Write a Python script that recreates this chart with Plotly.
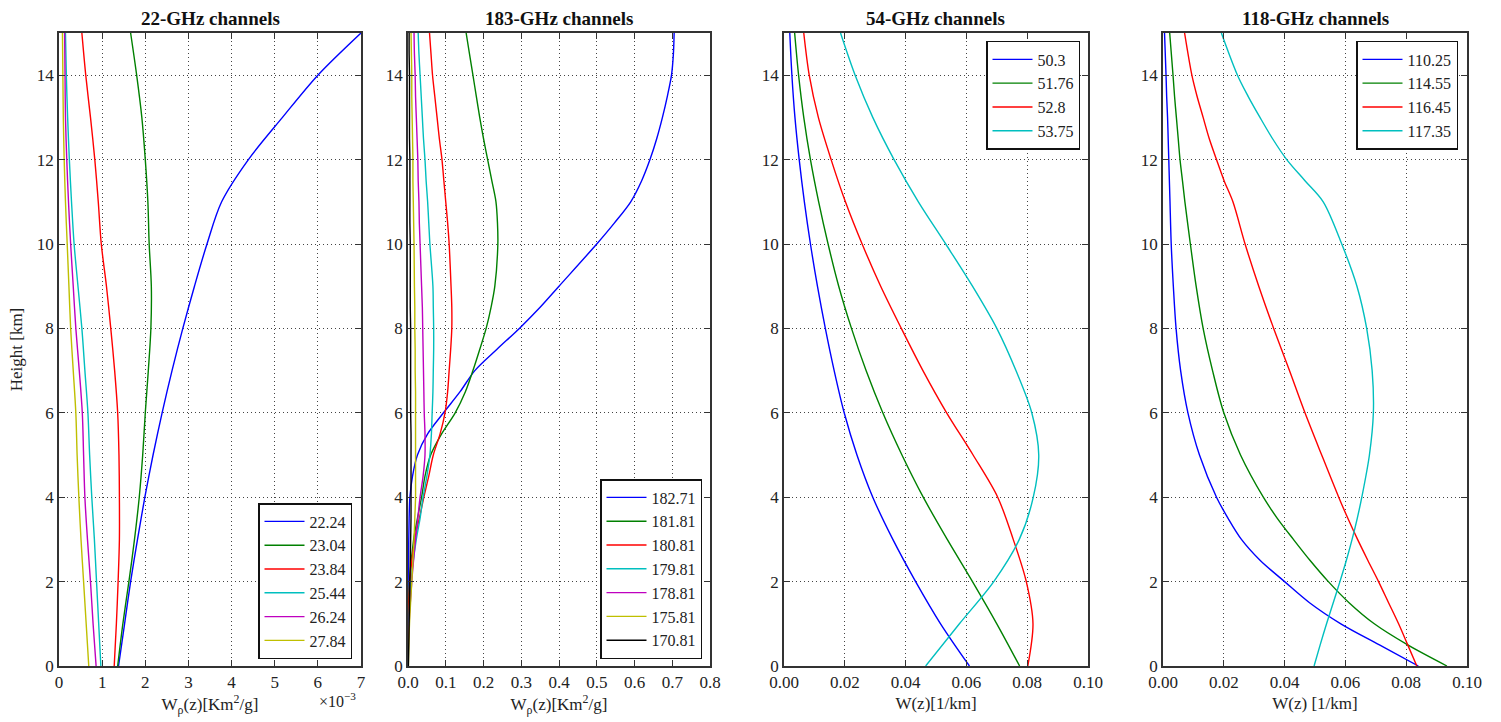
import plotly.graph_objects as go

# ---------------- data ----------------
# heights [km] and weighting functions per channel

# 22-GHz channels (values in units of 1e-3 Km^2/g)
h22 = [0, 1, 2, 3, 4, 5, 6, 7, 8, 9, 10, 11, 12, 13, 14, 15]
w22_2224 = [1.38, 1.52, 1.66, 1.82, 1.99, 2.18, 2.39, 2.62, 2.87, 3.14, 3.43, 3.77, 4.39, 5.18, 6.00, 7.00]
w22_2304 = [1.36, 1.48, 1.62, 1.75, 1.86, 1.94, 2.00, 2.07, 2.13, 2.14, 2.09, 2.06, 2.00, 1.92, 1.80, 1.66]
w22_2384 = [1.28, 1.33, 1.37, 1.40, 1.40, 1.39, 1.36, 1.29, 1.20, 1.10, 0.98, 0.91, 0.83, 0.73, 0.62, 0.53]
w22_2544 = [0.97, 0.92, 0.87, 0.82, 0.76, 0.71, 0.67, 0.60, 0.53, 0.44, 0.35, 0.29, 0.24, 0.20, 0.17, 0.15]
w22_2624 = [0.86, 0.79, 0.73, 0.66, 0.60, 0.57, 0.54, 0.47, 0.39, 0.33, 0.27, 0.22, 0.18, 0.15, 0.14, 0.13]
w22_2784 = [0.69, 0.63, 0.57, 0.51, 0.46, 0.42, 0.39, 0.33, 0.27, 0.23, 0.19, 0.15, 0.12, 0.10, 0.09, 0.08]
labels22 = ["22.24", "23.04", "23.84", "25.44", "26.24", "27.84"]

# 183-GHz channels (Km^2/g)
h183 = [0, 1, 2, 3, 3.5, 4, 4.5, 5, 5.5, 6, 6.5, 7, 7.5, 8, 8.5, 9, 10, 10.5, 11, 11.5, 12, 12.5, 13, 13.5, 14, 14.5, 15]
w183_18271 = [0.0, 0.0, 0.0005, 0.002, 0.003, 0.005, 0.012, 0.025, 0.052, 0.094, 0.138, 0.177, 0.235, 0.295,
              0.350, 0.400, 0.500, 0.547, 0.590, 0.619, 0.641, 0.659, 0.674, 0.687, 0.698, 0.703, 0.705]
w183_18181 = [0.0, 0.001, 0.004, 0.015, 0.025, 0.036, 0.045, 0.060, 0.089, 0.125, 0.152, 0.172, 0.190, 0.207,
              0.220, 0.230, 0.238, 0.237, 0.233, 0.222, 0.211, 0.200, 0.190, 0.181, 0.172, 0.163, 0.154]
w183_18081 = [0.0, 0.001, 0.005, 0.018, 0.030, 0.042, 0.055, 0.067, 0.085, 0.098, 0.105, 0.109, 0.113, 0.116,
              0.116, 0.114, 0.109, 0.105, 0.100, 0.095, 0.090, 0.083, 0.077, 0.071, 0.065, 0.061, 0.057]
w183_17981 = [0.0, 0.002, 0.008, 0.022, 0.032, 0.040, 0.050, 0.058, 0.062, 0.064, 0.066, 0.067, 0.068, 0.068,
              0.067, 0.066, 0.058, 0.055, 0.052, 0.048, 0.045, 0.041, 0.038, 0.035, 0.032, 0.029, 0.027]
w183_17881 = [0.0, 0.003, 0.010, 0.020, 0.026, 0.032, 0.040, 0.045, 0.045, 0.043, 0.042, 0.041, 0.040, 0.039,
              0.038, 0.036, 0.032, 0.030, 0.029, 0.027, 0.026, 0.024, 0.022, 0.020, 0.019, 0.017, 0.016]
w183_17581 = [0.001, 0.004, 0.010, 0.016, 0.018, 0.020, 0.020, 0.020, 0.020, 0.020, 0.020, 0.019, 0.019, 0.018,
              0.018, 0.017, 0.016, 0.015, 0.014, 0.013, 0.013, 0.012, 0.011, 0.010, 0.010, 0.009, 0.008]
w183_17081 = [0.001, 0.003, 0.005, 0.007, 0.008, 0.008, 0.008, 0.008, 0.008, 0.007, 0.007, 0.007, 0.007, 0.007,
              0.006, 0.006, 0.006, 0.005, 0.005, 0.005, 0.005, 0.004, 0.004, 0.004, 0.004, 0.003, 0.003]
labels183 = ["182.71", "181.81", "180.81", "179.81", "178.81", "175.81", "170.81"]

# 54-GHz channels (1/km)
h54 = [0, 1, 2, 3, 4, 5, 6, 7, 8, 9, 10, 11, 12, 13, 14, 15]
w54_503 = [0.0610, 0.0515, 0.0433, 0.0358, 0.0292, 0.0240, 0.0198, 0.0165, 0.0136, 0.0110, 0.0087, 0.0067,
           0.0050, 0.0036, 0.0026, 0.0019]
w54_5176 = [0.0775, 0.0700, 0.0620, 0.0537, 0.0458, 0.0388, 0.0325, 0.0270, 0.0222, 0.0180, 0.0145, 0.0114,
            0.0087, 0.0065, 0.0048, 0.0035]
w54_528 = [0.0802, 0.0819, 0.0797, 0.0754, 0.0703, 0.0622, 0.0535, 0.0457, 0.0386, 0.0318, 0.0257, 0.0202,
           0.0155, 0.0113, 0.0083, 0.0065]
w54_5375 = [0.0466, 0.0577, 0.0690, 0.0774, 0.0820, 0.0838, 0.0815, 0.0763, 0.0700, 0.0620, 0.0532, 0.0442,
            0.0362, 0.0292, 0.0234, 0.0186]
labels54 = ["50.3", "51.76", "52.8", "53.75"]

# 118-GHz channels (1/km)
h118 = [0, 0.5, 1, 1.5, 2, 2.5, 3, 3.5, 4, 5, 6, 7, 8, 9, 10, 11, 11.5, 12, 12.5, 13, 13.5, 14, 15]
w118_11025 = [0.0840, 0.0712, 0.0585, 0.0482, 0.0400, 0.0320, 0.0258, 0.0214, 0.0176, 0.0120, 0.0082, 0.0058,
              0.0043, 0.0034, 0.0027, 0.0023, 0.0021, 0.0019, 0.0017, 0.0015, 0.0012, 0.0010, 0.0005]
w118_11455 = [0.0934, 0.0805, 0.0695, 0.0612, 0.0544, 0.0484, 0.0429, 0.0376, 0.0330, 0.0255, 0.0200, 0.0163,
              0.0132, 0.0109, 0.0090, 0.0072, 0.0064, 0.0056, 0.0050, 0.0044, 0.0038, 0.0033, 0.0022]
w118_11645 = [0.0835, 0.0805, 0.0775, 0.0742, 0.0709, 0.0674, 0.0640, 0.0608, 0.0578, 0.0522, 0.0467, 0.0416,
              0.0364, 0.0315, 0.0270, 0.0230, 0.0201, 0.0176, 0.0152, 0.0132, 0.0112, 0.0095, 0.0071]
w118_11735 = [0.0497, 0.0517, 0.0538, 0.0560, 0.0582, 0.0603, 0.0622, 0.0639, 0.0654, 0.0679, 0.0692, 0.0688,
              0.0670, 0.0638, 0.0588, 0.0527, 0.0467, 0.0407, 0.0360, 0.0319, 0.0280, 0.0245, 0.0192]
labels118 = ["110.25", "114.55", "116.45", "117.35"]

# ---------------- styling ----------------
COLORS = ["#0000ff", "#008000", "#ff0000", "#00bfbf", "#bf00bf", "#bfbf00", "#000000"]
FONT = "Liberation Serif"
TXT = "#222222"

W, H = 1501, 722
ML, MR, MT, MB = 59, 34, 33, 54
PW = W - ML - MR
PH = H - MT - MB


def px_x(p):
    return (p - ML) / PW


def px_y(p):
    return (H - MB - p) / PH


domains = [[px_x(a), px_x(b)] for a, b in [(59, 361), (408, 710), (784, 1088), (1163, 1467)]]

fig = go.Figure()

panels = [
    (h22, [[v * 1e-3 for v in s] for s in [w22_2224, w22_2304, w22_2384, w22_2544, w22_2624, w22_2784]], labels22),
    (h183, [w183_18271, w183_18181, w183_18081, w183_17981, w183_17881, w183_17581, w183_17081], labels183),
    (h54, [w54_503, w54_5176, w54_528, w54_5375], labels54),
    (h118, [w118_11025, w118_11455, w118_11645, w118_11735], labels118),
]

for i, (hs, series, labels) in enumerate(panels):
    ax = "" if i == 0 else str(i + 1)
    leg = "legend" if i == 0 else f"legend{i + 1}"
    for j, (vals, lab) in enumerate(zip(series, labels)):
        fig.add_trace(go.Scatter(
            x=vals, y=hs, mode="lines", name=lab,
            line=dict(color=COLORS[j], width=1.4, shape="spline", smoothing=0.9),
            xaxis="x" + ax, yaxis="y" + ax, legend=leg, showlegend=True,
        ))

axis_common = dict(
    showline=True, linecolor="#333333", linewidth=1.6, mirror="ticks",
    ticks="inside", ticklen=6, tickwidth=1, tickcolor="#333333",
    showgrid=True, gridcolor="#444444", griddash="1px,3px", gridwidth=1,
    zeroline=False, tickfont=dict(family=FONT, size=17, color=TXT),
)

xcfg = [
    dict(range=[0, 7e-3], tickvals=[k * 1e-3 for k in range(8)], ticktext=[str(k) for k in range(8)],
         title_text="W<sub>ρ</sub>(z)[Km<sup>2</sup>/g]"),
    dict(range=[0, 0.8], tickvals=[k / 10 for k in range(9)], ticktext=[f"{k / 10:.1f}" for k in range(9)],
         title_text="W<sub>ρ</sub>(z)[Km<sup>2</sup>/g]"),
    dict(range=[0, 0.1], tickvals=[k / 50 for k in range(6)], ticktext=[f"{k / 50:.2f}" for k in range(6)],
         title_text="W(z)[1/km]"),
    dict(range=[0, 0.1], tickvals=[k / 50 for k in range(6)], ticktext=[f"{k / 50:.2f}" for k in range(6)],
         title_text="W(z) [1/km]"),
]

for i in range(4):
    ax = "" if i == 0 else str(i + 1)
    xa = dict(axis_common, domain=domains[i], anchor="y" + ax, **xcfg[i])
    xa["title_font"] = dict(family=FONT, size=17, color=TXT)
    xa["title_standoff"] = 6
    ya = dict(axis_common, domain=[0, 1], anchor="x" + ax, range=[0, 15],
              tickvals=list(range(0, 15, 2)))
    if i == 0:
        ya["title_text"] = "Height [km]"
        ya["title_font"] = dict(family=FONT, size=17, color=TXT)
        ya["title_standoff"] = 10
    fig.update_layout({"xaxis" + ax: xa, "yaxis" + ax: ya})

legend_common = dict(
    bgcolor="white", bordercolor="#111111", borderwidth=1.5,
    font=dict(family=FONT, size=16, color=TXT), tracegroupgap=0, itemwidth=40,
)

fig.update_layout(
    legend=dict(legend_common, x=px_x(352), y=px_y(661), xanchor="right", yanchor="bottom"),
    legend2=dict(legend_common, x=px_x(702), y=px_y(661), xanchor="right", yanchor="bottom"),
    legend3=dict(legend_common, x=px_x(1080), y=px_y(41), xanchor="right", yanchor="top"),
    legend4=dict(legend_common, x=px_x(1458), y=px_y(41), xanchor="right", yanchor="top"),
)

titles = ["22-GHz channels", "183-GHz channels", "54-GHz channels", "118-GHz channels"]
for d, t in zip(domains, titles):
    fig.add_annotation(text=f"<b>{t}</b>", x=(d[0] + d[1]) / 2, y=1.0, xref="paper", yref="paper",
                       xanchor="center", yanchor="bottom", yshift=2, showarrow=False,
                       font=dict(family=FONT, size=19, color="#111111"))

# scale multiplier for the first panel's x axis
fig.add_annotation(text="×10<sup>−3</sup>", x=px_x(358), y=px_y(702), xref="paper", yref="paper",
                   xanchor="right", yanchor="middle", showarrow=False,
                   font=dict(family=FONT, size=16, color=TXT))

fig.update_layout(
    width=W, height=H, margin=dict(l=ML, r=MR, t=MT, b=MB),
    plot_bgcolor="white", paper_bgcolor="white",
    font=dict(family=FONT, color=TXT),
)

fig.write_html("out.html")
